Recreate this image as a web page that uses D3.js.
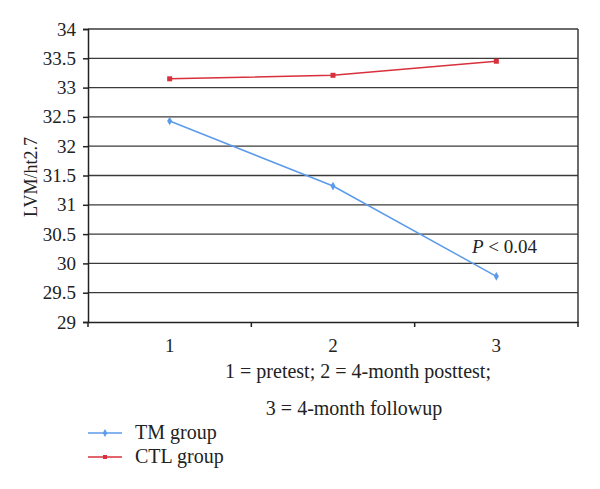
<!DOCTYPE html>
<html><head><meta charset="utf-8">
<script src="https://cdn.jsdelivr.net/npm/d3@7"></script>
<style>body{margin:0;background:#fff}svg{display:block}svg text{font-family:"Liberation Serif","Times New Roman","DejaVu Serif",serif !important;fill:#222}</style>
</head><body><svg id="c" width="600" height="489"></svg>
<script>
const categories = ["1","2","3"];
const tmValues = [32.43, 31.32, 29.78];
const ctlValues = [33.15, 33.21, 33.45];
const yTicks = [29,29.5,30,30.5,31,31.5,32,32.5,33,33.5,34];
const seriesNames = ["TM group","CTL group"];
const colors = ["#5b9bea","#d8303c"];
const xTitle = ["1 = pretest; 2 = 4-month posttest;","3 = 4-month followup"];
const yTitle = "LVM/ht2.7";
const annotation = {pre:"P", post:" < 0.04"};

const FS = 19, FT = 20;
const svg = d3.select("#c");
const L=88,R=578,T=29,B=322;
const x = d3.scaleBand().domain(categories).range([L,R]);
const y = d3.scaleLinear().domain([29,34]).range([B,T]);

svg.append("g").selectAll("line").data(yTicks.slice(1)).join("line")
  .attr("x1",L).attr("x2",R).attr("y1",d=>y(d)).attr("y2",d=>y(d))
  .attr("stroke","#3a3a3a").attr("stroke-width",1.3);
svg.append("line").attr("x1",R).attr("x2",R).attr("y1",T).attr("y2",B).attr("stroke","#3a3a3a").attr("stroke-width",1.5);

const ya = svg.append("g").attr("transform",`translate(${L},0)`)
  .call(d3.axisLeft(y).tickValues(yTicks).tickSize(5).tickPadding(7).tickFormat(d=>String(d)));
ya.attr("font-family",null).attr("font-size",null);
ya.select(".domain").attr("stroke","#222").attr("stroke-width",1.5);
ya.selectAll(".tick line").attr("stroke","#222").attr("stroke-width",1.5);
ya.selectAll(".tick text").attr("font-size",FS).attr("fill","#222");

const xa = svg.append("g").attr("transform",`translate(0,${B})`)
  .call(d3.axisBottom(x).tickSize(0).tickPadding(17));
xa.attr("font-family",null).attr("font-size",null);
xa.select(".domain").attr("stroke","#222").attr("stroke-width",1.5);
xa.selectAll(".tick text").attr("font-size",FS).attr("fill","#222");
const bounds = categories.map(c=>x(c)).concat([R]);
svg.append("g").selectAll("line").data(bounds).join("line")
  .attr("x1",d=>d).attr("x2",d=>d).attr("y1",B).attr("y2",B+5).attr("stroke","#222").attr("stroke-width",1.5);

svg.append("text").attr("x",358).attr("y",378).attr("text-anchor","middle").attr("font-size",FT).text(xTitle[0]);
svg.append("text").attr("x",354).attr("y",415).attr("text-anchor","middle").attr("font-size",FT).text(xTitle[1]);
svg.append("text").attr("transform","translate(37,177) rotate(-90)").attr("text-anchor","middle").attr("font-size",18).text(yTitle);

const cx = c => x(c)+x.bandwidth()/2;
const line = d3.line().x((d,i)=>cx(categories[i])).y(d=>y(d));
const series = [tmValues, ctlValues];
series.forEach((vals,si)=>{
  svg.append("path").datum(vals).attr("d",line).attr("fill","none").attr("stroke",colors[si]).attr("stroke-width",1.5);
  const g = svg.append("g");
  vals.forEach((v,i)=>{
    if(si===0){
      g.append("path").attr("d",d3.symbol(d3.symbolDiamond,22)()).attr("transform",`translate(${cx(categories[i])},${y(v)})`).attr("fill",colors[si]);
    } else {
      g.append("rect").attr("x",cx(categories[i])-2.5).attr("y",y(v)-2.5).attr("width",5).attr("height",5).attr("fill",colors[si]);
    }
  });
});

const an = svg.append("text").attr("x",472).attr("y",253).attr("font-size",FS);
an.append("tspan").attr("font-style","italic").text(annotation.pre);
an.append("tspan").text(annotation.post);

seriesNames.forEach((n,i)=>{
  const ly = 433 + i*24;
  svg.append("line").attr("x1",88).attr("x2",122).attr("y1",ly).attr("y2",ly).attr("stroke",colors[i]).attr("stroke-width",1.5);
  if(i===0) svg.append("path").attr("d",d3.symbol(d3.symbolDiamond,18)()).attr("transform",`translate(105,${ly})`).attr("fill",colors[i]);
  else svg.append("rect").attr("x",103).attr("y",ly-2).attr("width",4).attr("height",4).attr("fill",colors[i]);
  svg.append("text").attr("x",135).attr("y",ly+6).attr("font-size",FT).text(n);
});
</script></body></html>
